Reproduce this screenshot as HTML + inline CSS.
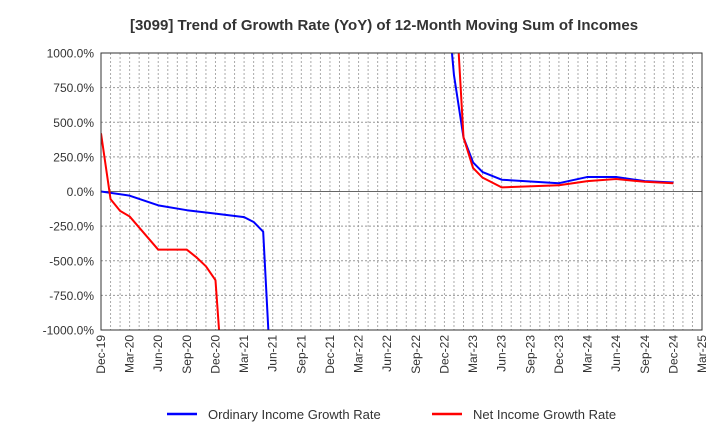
<!DOCTYPE html>
<html><head><meta charset="utf-8"><style>
body{margin:0;background:#fff;font-family:"Liberation Sans",sans-serif}
</style></head><body>
<svg id="c" width="720" height="440" xmlns="http://www.w3.org/2000/svg" font-family="Liberation Sans, sans-serif">
<text x="384" y="30" text-anchor="middle" font-size="15" font-weight="bold" fill="#333">[3099]  Trend of Growth Rate (YoY) of 12-Month Moving Sum of Incomes</text>
<defs><clipPath id="clip"><rect x="101" y="53" width="601" height="277"/></clipPath></defs>
<g id="grid"></g>
<g id="series" clip-path="url(#clip)"></g>
<rect x="101" y="53" width="601" height="277" fill="none" stroke="#333" stroke-width="1"/>
<g>
<line x1="167" y1="414" x2="197" y2="414" stroke="#0000ff" stroke-width="2.5"/>
<text x="208" y="419" font-size="13" fill="#333">Ordinary Income Growth Rate</text>
<line x1="432" y1="414" x2="462" y2="414" stroke="#ff0000" stroke-width="2.5"/>
<text x="473" y="419" font-size="13" fill="#333">Net Income Growth Rate</text>
</g>
</svg>
<script>
const yTicks=[1000,750,500,250,0,-250,-500,-750,-1000];
const xLabels=["Dec-19","Mar-20","Jun-20","Sep-20","Dec-20","Mar-21","Jun-21","Sep-21","Dec-21","Mar-22","Jun-22","Sep-22","Dec-22","Mar-23","Jun-23","Sep-23","Dec-23","Mar-24","Jun-24","Sep-24","Dec-24","Mar-25"];
const ordMonths=[0,3,6,9,12,15,16,17,18,27,36,37,38,39,40,42,48,51,54,57,60];
const ordValues=[0,-30,-100,-135,-160,-185,-220,-290,-1600,null,1600,840,390,210,140,85,60,105,105,75,65];
const netMonths=[0,1,2,3,6,9,10,11,12,13,25,37,38,39,40,42,48,51,54,57,60];
const netValues=[420,-55,-140,-180,-420,-420,-475,-540,-640,-1600,null,1600,390,170,100,30,45,75,90,70,60];
const X0=101,X1=702,Y0=53,Y1=330;
const xs=m=>X0+m*(X1-X0)/63;
const ys=v=>Y0+(1000-v)*(Y1-Y0)/2000;
const NS="http://www.w3.org/2000/svg";
const svg=document.getElementById('c'),grid=document.getElementById('grid'),ser=document.getElementById('series');
function mk(t,a,p){const e=document.createElementNS(NS,t);for(const k in a)e.setAttribute(k,a[k]);p.appendChild(e);return e;}
for(let m=1;m<63;m++){const l=mk('line',{x1:xs(m),x2:xs(m),y1:Y0,y2:Y1,stroke:'#aaa','stroke-dasharray':'2,2','stroke-width':1},grid);

}
yTicks.forEach(v=>{const y=ys(v);
if(v!==0&&v!==1000&&v!==-1000){const l=mk('line',{x1:X0,x2:X1,y1:y,y2:y,stroke:'#999','stroke-dasharray':'2,2'},grid);

}
if(v===0){const l=mk('line',{x1:X0,x2:X1,y1:y,y2:y,stroke:'#666'},grid);

}
const t=mk('text',{x:94,y:y+4.5,'text-anchor':'end','font-size':12,fill:'#333'},svg);t.textContent=v.toFixed(1)+'%';

});
xLabels.forEach((s,i)=>{const x=xs(i*3);const t=mk('text',{x:0,y:0,'text-anchor':'end','font-size':12,fill:'#333',transform:`translate(${x+4},${Y1+5}) rotate(-90)`},svg);t.textContent=s;

});
function line(ms,vs,col,name){
let segs=[[]];
ms.forEach((m,i)=>{if(vs[i]===null){segs.push([]);}else segs[segs.length-1].push(xs(m)+','+ys(vs[i]));});
segs.filter(s=>s.length>1).forEach(s=>{
const p=mk('polyline',{points:s.join(' '),fill:'none',stroke:col,'stroke-width':2,'stroke-linejoin':'round'},ser);

});}
line(ordMonths,ordValues,'#0000ff','ordinary-income-line');
line(netMonths,netValues,'#ff0000','net-income-line');
</script>
</body></html>
